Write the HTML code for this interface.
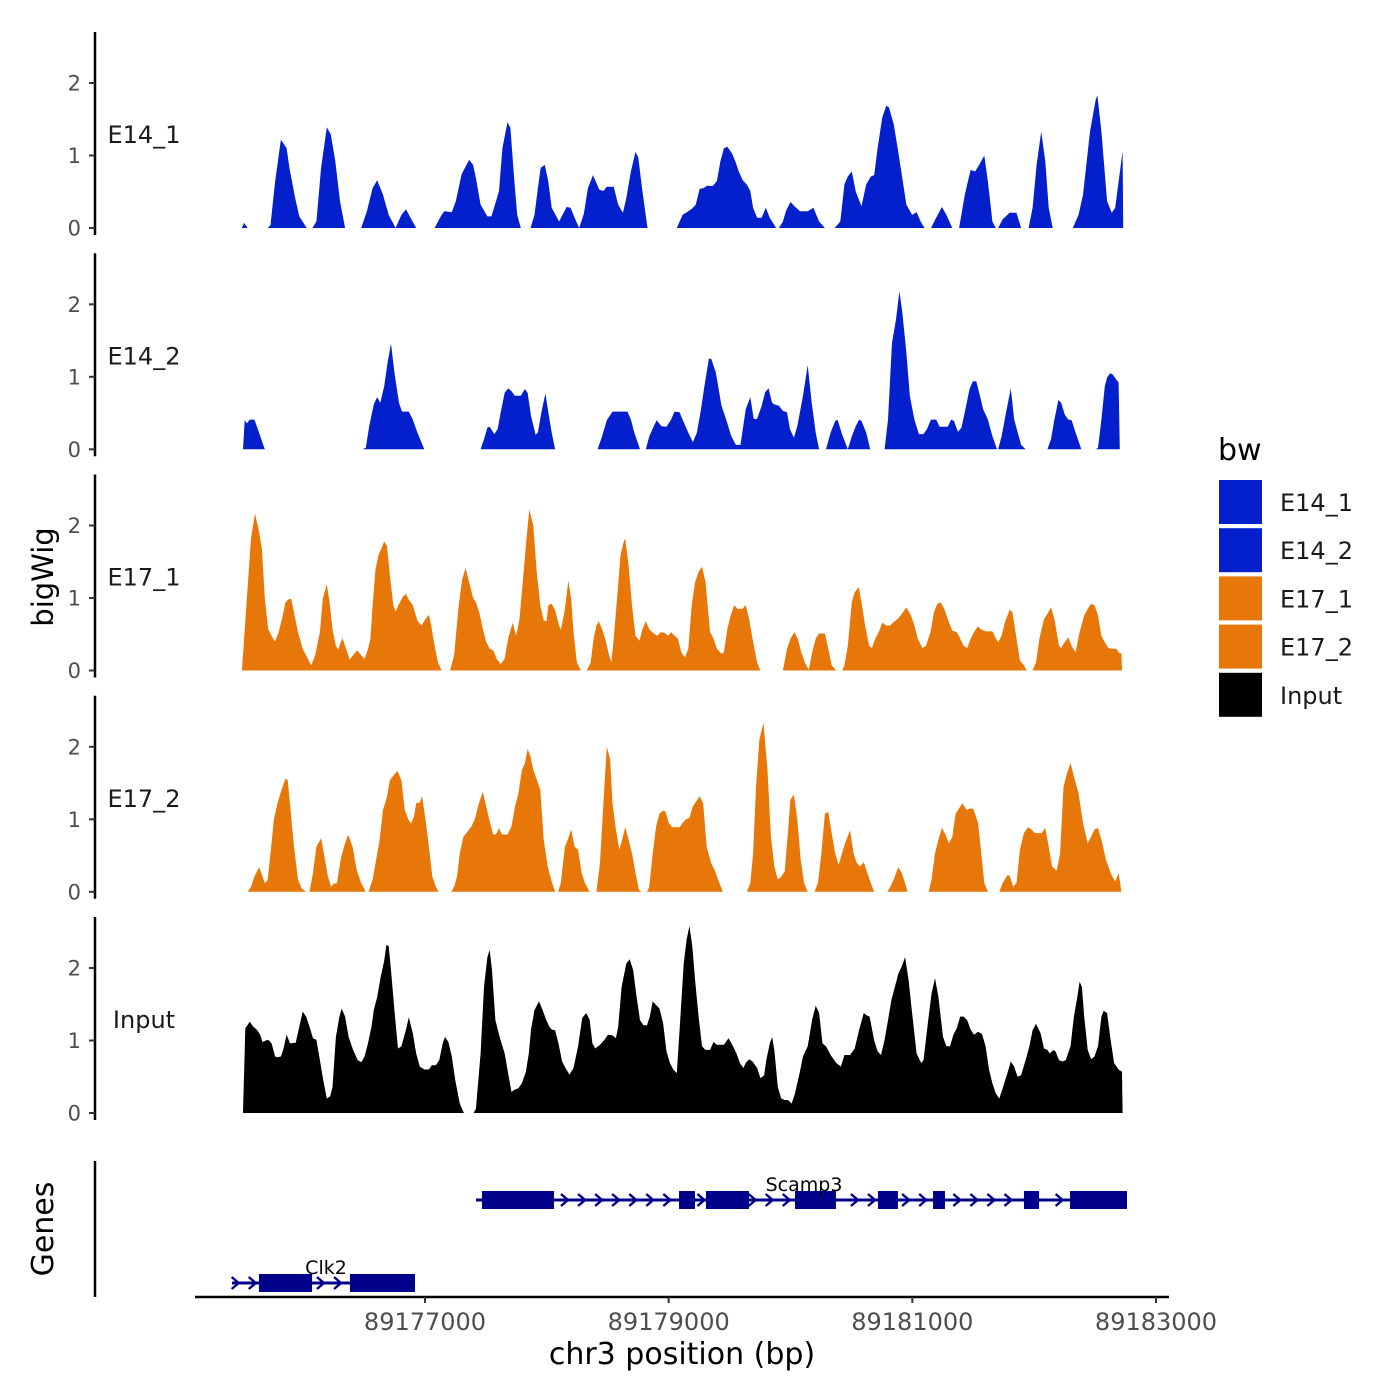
<!DOCTYPE html>
<html><head><meta charset="utf-8"><style>
html,body{margin:0;padding:0;background:#fff;}
svg{display:block;font-family:"DejaVu Sans","Liberation Sans",sans-serif;}
</style></head><body>
<svg id="chart" width="1400" height="1400" viewBox="0 0 1400 1400" xmlns="http://www.w3.org/2000/svg"></svg>
<script>
// ---- data ----
const chromBase = 89175000;
const trackNames = ["E14_1","E14_2","E17_1","E17_2","Input"];
const trackColors = ["#0320CC","#0320CC","#E8770A","#E8770A","#000000"];
const xTicks = [89177000,89179000,89181000,89183000];
const yTicks = [0,1,2];
// flat [offset-from-chromBase, value] pairs
const e14_1 = [497,0,515,.07,544,0,708,0,732,.04,770,.64,817,1.22,864,1.1,887,.83,935,.41,968,.16,1029,0,
1076,0,1109,.09,1147,.83,1194,1.39,1227,1.29,1264,.92,1302,.37,1344,0,
1476,0,1523,.23,1570,.55,1608,.66,1655,.46,1702,.18,1759,0,1806,.18,1844,.26,1891,.11,1928,0,
2079,0,2136,.18,2159,.23,2220,.22,2253,.37,2300,.74,2362,.94,2395,.87,2418,.69,2456,.32,2512,.16,2545,.16,2583,.37,2607,.51,2635,1.1,2677,1.46,2701,1.38,2734,.64,2757,.18,2786,0,
2866,0,2899,.18,2927,.55,2950,.83,2983,.87,3012,.64,3040,.28,3101,.09,3162,.29,3195,.28,3228,.14,3266,0,3304,.2,3337,.55,3379,.73,3431,.53,3464,.51,3492,.57,3549,.57,3586,.32,3624,.21,3652,.41,3690,.78,3728,1.05,3751,.97,3784,.51,3826,0,
4067,0,4114,.18,4161,.23,4194,.27,4222,.32,4255,.54,4288,.55,4312,.58,4363,.58,4396,.65,4425,.92,4453,1.1,4481,1.12,4519,1.03,4547,.92,4575,.78,4608,.66,4641,.6,4670,.51,4693,.28,4726,.14,4764,.14,4797,.28,4830,.14,4882,0,
4905,0,4938,.09,4962,.23,5000,.36,5032,.3,5079,.23,5141,.23,5188,.28,5235,.09,5282,0,
5362,0,5409,.09,5442,.6,5470,.71,5503,.78,5536,.5,5583,.3,5621,.6,5659,.71,5687,.73,5715,1.1,5753,1.52,5786,1.69,5809,1.66,5847,1.43,5880,1.1,5913,.74,5951,.32,5998,.18,6035,.22,6068,.09,6101,0,
6153,0,6196,.14,6243,.29,6280,.18,6328,0,6384,0,6431,.46,6478,.8,6516,.78,6549,.87,6591,1.0,6620,.64,6657,.09,6685,0,
6704,0,6742,.12,6799,.21,6855,.21,6893,0,6954,0,6987,.28,7020,.87,7058,1.33,7091,.92,7119,.28,7152,0,
7317,0,7364,.18,7401,.46,7458,1.33,7505,1.77,7519,1.83,7552,1.33,7599,.37,7637,.21,7665,.28,7693,.64,7726,1.06,7731,0];
const e14_2 = [506,0,520,.40,539,.36,562,.41,600,.41,628,.28,666,.09,685,0,
1486,0,1514,.02,1542,.32,1580,.62,1608,.72,1632,.64,1665,.87,1693,1.2,1721,1.46,1749,1.06,1787,.64,1811,.52,1867,.52,1900,.41,1938,.23,1994,0,
2456,0,2484,.14,2512,.3,2531,.31,2569,.21,2597,.28,2621,.51,2654,.78,2682,.84,2710,.8,2738,.74,2786,.74,2819,.83,2842,.78,2870,.46,2908,.2,2927,.23,2955,.51,2988,.77,3012,.51,3040,.23,3068,0,
3417,0,3454,.18,3492,.4,3539,.52,3662,.52,3690,.41,3718,.23,3765,0,
3812,0,3841,.18,3878,.32,3902,.4,3940,.32,3982,.31,4020,.41,4048,.52,4090,.51,4114,.41,4161,.23,4199,.1,4232,.23,4265,.55,4293,.87,4330,1.25,4349,1.25,4387,1.06,4434,.6,4472,.41,4514,.18,4552,.06,4590,.06,4604,.23,4632,.55,4670,.72,4698,.42,4726,.42,4764,.6,4792,.79,4820,.84,4849,.64,4867,.62,4905,.6,4938,.53,4971,.51,4995,.28,5028,.16,5056,.32,5103,.74,5141,1.16,5174,.64,5207,.23,5235,0,
5291,0,5329,.23,5367,.39,5386,.41,5423,.21,5470,0,5503,.18,5536,.32,5564,.41,5583,.39,5621,.23,5654,0,
5772,0,5800,.41,5833,1.47,5866,1.79,5894,2.18,5918,1.89,5951,1.33,5979,.74,6017,.41,6054,.21,6092,.21,6120,.28,6153,.41,6196,.41,6224,.31,6290,.31,6318,.41,6342,.39,6375,.24,6403,.3,6431,.51,6469,.83,6497,.94,6525,.94,6549,.78,6582,.55,6620,.41,6657,.18,6695,0,
6704,0,6733,.18,6770,.51,6808,.84,6836,.41,6893,.06,6930,0,
7109,0,7138,.14,7166,.41,7199,.68,7222,.64,7251,.48,7279,.41,7307,.4,7340,.23,7387,0,
7505,0,7524,.02,7552,.41,7580,.87,7599,.99,7623,1.05,7646,1.03,7670,.97,7693,.92,7703,0];
const e17_1 = [497,0,534,.9,572,1.82,605,2.17,638,1.91,661,1.68,685,1.0,713,.57,746,.46,770,.4,798,.53,826,.71,854,.94,878,.98,902,.99,930,.76,958,.53,996,.30,1033,.18,1066,.07,1099,.21,1137,.53,1161,.99,1194,1.19,1217,.94,1241,.57,1269,.34,1288,.29,1321,.45,1344,.34,1382,.15,1410,.21,1443,.28,1476,.21,1504,.16,1533,.30,1552,.44,1570,.90,1594,1.40,1618,1.59,1641,1.68,1665,1.78,1688,1.72,1712,1.31,1740,.90,1759,.81,1782,.90,1815,1.01,1844,1.06,1862,.99,1900,.90,1938,.69,1971,.62,2004,.71,2032,.77,2051,.62,2079,.34,2107,.11,2136,0,
2206,0,2239,.21,2277,.9,2305,1.26,2333,1.41,2362,1.22,2395,1.0,2418,.94,2446,.8,2475,.57,2503,.39,2531,.3,2560,.28,2588,.16,2621,.09,2654,.16,2682,.44,2720,.66,2748,.48,2776,.71,2804,1.26,2833,1.82,2856,2.22,2889,2.0,2917,1.36,2946,.9,2974,.69,2998,.68,3012,.9,3040,.92,3068,.83,3101,.62,3115,.56,3144,.8,3177,1.24,3200,.99,3219,.53,3247,.11,3280,0,
3327,0,3360,.11,3384,.44,3407,.62,3426,.68,3454,.57,3478,.44,3511,.21,3530,.11,3549,.44,3572,.9,3605,1.59,3629,1.77,3643,1.82,3671,1.45,3699,.9,3728,.48,3761,.41,3784,.57,3812,.68,3841,.57,3878,.51,3907,.48,3935,.53,3963,.52,3996,.48,4020,.53,4048,.48,4076,.44,4104,.25,4133,.18,4161,.30,4189,.9,4217,1.22,4246,1.36,4274,1.43,4302,1.22,4340,.53,4368,.44,4396,.30,4434,.23,4453,.25,4481,.57,4509,.76,4538,.90,4566,.85,4604,.85,4632,.9,4660,.71,4688,.44,4726,.11,4754,0,
4938,0,4971,.30,5000,.44,5032,.53,5061,.43,5089,.25,5117,.11,5150,.01,5178,.25,5207,.44,5235,.51,5282,.51,5310,.30,5338,.07,5376,0,
5423,0,5442,.07,5470,.34,5503,.94,5527,1.08,5560,1.15,5583,.94,5612,.62,5645,.34,5668,.31,5696,.44,5725,.53,5753,.66,5786,.62,5819,.62,5847,.67,5880,.71,5913,.78,5951,.87,5988,.76,6017,.62,6045,.44,6083,.31,6111,.34,6149,.53,6177,.8,6205,.92,6233,.94,6262,.85,6290,.71,6328,.55,6365,.53,6393,.44,6422,.34,6450,.31,6478,.44,6506,.53,6539,.61,6563,.57,6601,.54,6657,.54,6681,.46,6704,.39,6733,.48,6761,.67,6799,.84,6822,.80,6855,.44,6883,.14,6916,.07,6940,0,
6987,0,7015,.11,7043,.44,7081,.71,7109,.78,7138,.87,7166,.71,7204,.34,7222,.31,7251,.39,7279,.46,7307,.34,7340,.25,7373,.53,7411,.76,7439,.85,7467,.92,7495,.90,7524,.76,7552,.48,7580,.39,7609,.31,7637,.30,7675,.30,7693,.25,7717,.23,7721,0];
const e17_2 = [544,0,572,.07,600,.21,638,.34,666,.21,685,.12,708,.16,732,.53,760,1.0,789,1.22,817,1.38,854,1.56,873,1.54,897,1.13,925,.62,958,.17,986,.05,1024,0,
1052,0,1081,.26,1109,.62,1147,.74,1170,.53,1203,.21,1231,.07,1250,.11,1278,.12,1307,.44,1335,.62,1368,.79,1406,.62,1439,.30,1476,.12,1514,0,
1537,0,1570,.17,1599,.44,1627,.71,1655,1.13,1688,1.31,1712,1.54,1740,1.6,1773,1.67,1806,1.54,1834,1.13,1862,1.0,1886,.94,1910,1.04,1928,1.22,1957,1.23,1975,1.32,2004,1.0,2032,.62,2060,.21,2089,.07,2112,0,
2216,0,2239,.07,2263,.21,2286,.53,2315,.76,2348,.83,2381,.9,2409,1.0,2442,1.22,2475,1.38,2503,1.17,2527,1.0,2560,.79,2583,.79,2607,.88,2630,.79,2677,.79,2710,.9,2738,1.17,2767,1.36,2795,1.68,2819,1.77,2842,1.97,2866,1.87,2889,1.68,2917,1.55,2946,1.41,2974,.72,3007,.35,3040,.14,3068,0,
3092,0,3115,.12,3148,.62,3172,.72,3200,.86,3228,.62,3257,.58,3285,.26,3313,.12,3351,0,
3407,0,3436,.4,3464,1.22,3492,2.0,3520,1.82,3539,1.22,3567,.86,3596,.58,3624,.76,3643,.89,3671,.72,3699,.53,3728,.26,3756,.03,3775,0,
3822,0,3841,.07,3869,.53,3897,.9,3925,1.08,3954,1.12,3973,1.11,4001,.95,4029,.89,4090,.89,4114,.95,4142,1.0,4170,1.02,4199,1.18,4227,1.25,4255,1.32,4283,1.22,4312,.62,4349,.39,4378,.30,4406,.17,4444,0,
4641,0,4670,.12,4693,.53,4717,1.45,4745,2.1,4778,2.33,4811,1.68,4839,.77,4867,.35,4896,.17,4924,.21,4952,.28,4980,.85,4999,1.27,5028,1.34,5056,1.0,5084,.44,5112,.12,5141,0,
5197,0,5225,.12,5254,.53,5282,1.08,5310,1.1,5338,.81,5367,.53,5395,.37,5423,.53,5447,.67,5489,.85,5517,.53,5546,.39,5574,.35,5602,.41,5630,.26,5659,.12,5687,0,
5795,0,5819,.07,5847,.17,5885,.34,5913,.26,5941,.12,5960,0,
6134,0,6158,.17,6186,.53,6214,.72,6243,.88,6271,.79,6299,.67,6328,.76,6356,1.08,6384,1.15,6412,1.22,6445,1.13,6478,1.15,6502,1.14,6539,.95,6563,.58,6591,.12,6620,0,
6714,0,6742,.12,6780,.23,6799,.22,6827,.07,6855,.12,6883,.58,6916,.81,6949,.89,6977,.86,7006,.81,7062,.81,7091,.88,7119,.62,7147,.35,7185,.29,7213,.53,7241,1.45,7270,1.64,7298,1.78,7326,1.59,7364,1.36,7401,.95,7439,.67,7467,.76,7495,.86,7524,.88,7552,.72,7590,.44,7627,.26,7665,.14,7693,.26,7717,0];
const input = [506,0,525,1.17,562,1.26,591,1.19,619,1.15,647,1.08,666,.98,694,1.0,713,1.01,741,.96,770,.78,789,.77,817,.78,836,.87,864,1.08,892,.96,939,.97,968,1.19,996,1.4,1024,1.33,1052,1.19,1081,1.03,1109,1.01,1137,.73,1165,.45,1194,.2,1222,.23,1241,.36,1269,1.05,1297,1.33,1316,1.44,1344,1.33,1373,1.05,1410,.87,1448,.73,1476,.7,1504,.78,1533,.97,1561,1.19,1580,1.42,1608,1.6,1636,1.88,1665,2.1,1683,2.32,1702,2.3,1721,1.97,1749,1.42,1778,.89,1806,.92,1844,1.15,1867,1.32,1900,1.1,1928,.82,1957,.64,1994,.6,2032,.6,2056,.66,2089,.66,2117,.73,2145,.96,2164,1.05,2192,.98,2220,.78,2249,.45,2286,.13,2319,0,
2399,0,2418,.06,2456,.82,2484,1.74,2512,2.15,2531,2.25,2550,1.97,2578,1.28,2616,1.03,2654,.82,2682,.55,2710,.29,2734,.32,2767,.34,2795,.41,2828,.57,2852,.82,2870,1.15,2899,1.42,2936,1.54,2965,1.42,2993,1.29,3021,1.19,3040,1.15,3068,1.14,3096,.96,3125,.71,3153,.62,3186,.53,3219,.62,3257,.92,3290,1.31,3323,1.38,3351,1.29,3374,.96,3398,.89,3436,.94,3473,1.01,3502,1.08,3539,1.07,3567,1.03,3586,1.19,3614,1.74,3652,2.06,3680,2.12,3709,1.97,3737,1.6,3765,1.28,3794,1.21,3822,1.21,3845,1.33,3869,1.54,3897,1.49,3925,1.44,3954,1.24,3982,.85,4010,.69,4038,.6,4067,.55,4095,1.28,4123,2.06,4147,2.39,4170,2.58,4194,2.3,4217,1.83,4246,1.33,4274,.92,4302,.87,4340,.87,4368,.98,4396,.94,4453,.94,4491,1.03,4528,.92,4557,.82,4585,.69,4613,.62,4632,.69,4660,.74,4688,.71,4726,.62,4754,.48,4783,.52,4801,.73,4830,.96,4849,1.05,4867,.87,4896,.36,4924,.2,4952,.18,4980,.18,5009,.13,5037,.27,5075,.55,5103,.78,5141,.92,5178,1.29,5207,1.48,5235,1.38,5263,.96,5291,.92,5329,.8,5376,.69,5414,.64,5442,.8,5489,.8,5527,.89,5564,1.15,5602,1.38,5621,1.35,5649,1.33,5687,1.0,5715,.85,5743,.8,5772,1.01,5800,1.28,5828,1.56,5857,1.74,5885,1.92,5913,2.02,5941,2.15,5969,1.83,5998,1.38,6035,.82,6073,.69,6092,.73,6130,1.28,6158,1.65,6186,1.86,6214,1.6,6252,1.05,6280,.92,6309,.92,6337,1.08,6365,1.17,6393,1.33,6422,1.33,6450,1.28,6478,1.15,6506,1.08,6539,1.12,6572,1.09,6601,.92,6629,.6,6657,.41,6685,.27,6714,.2,6742,.34,6780,.55,6808,.71,6836,.64,6864,.5,6893,.52,6930,.73,6959,.91,6987,1.14,7015,1.23,7053,1.1,7081,.89,7109,.87,7128,.82,7157,.87,7175,.85,7204,.73,7232,.71,7260,.73,7298,.92,7326,1.33,7354,1.6,7373,1.81,7392,1.74,7411,1.33,7439,.87,7467,.74,7495,.78,7524,.92,7552,1.33,7571,1.41,7599,1.38,7627,1.01,7656,.69,7693,.6,7721,.57,7726,0];
const trackData = [e14_1,e14_2,e17_1,e17_2,input];
// genes
const geneNames = ["Scamp3","Clk2"];
const geneStarts = [89177419,89175416];
const geneEnds = [89182762,89176918];
const scamp3Exons = [89177468,89178059, 89179085,89179216, 89179306,89179659, 89180037,89180373, 89180718,89180882, 89181170,89181268, 89181916,89182040, 89182294,89182762];
const clk2Exons = [89175637,89176073, 89176384,89176918];
const geneExons = [scamp3Exons, clk2Exons];

// ---- scales ----
const NS = "http://www.w3.org/2000/svg";
const svg = document.getElementById('chart');
const xScale = bp => 425 + (bp - 89177000) * (731 / 6000);
const panelZero = [228, 449.3, 670.5, 891.8, 1113];
const yUnit = 72.5;
const yScale = (p, v) => panelZero[p] - v * yUnit;
function mk(tag, attrs, parent){ const e=document.createElementNS(NS,tag); for(const k in attrs) e.setAttribute(k,attrs[k]); (parent||svg).appendChild(e); return e; }

// panels
trackData.forEach((d, p) => {
  const g = mk('g', {});
  
  
  let pts = [];
  for (let i = 0; i < d.length; i += 2) pts.push(xScale(chromBase + d[i]).toFixed(1) + ',' + yScale(p, d[i+1]).toFixed(1));
  const first = xScale(chromBase + d[0]), last = xScale(chromBase + d[d.length-2]);
  const poly = mk('polygon', {points: first.toFixed(1)+','+panelZero[p]+' '+pts.join(' ')+' '+last.toFixed(1)+','+panelZero[p], fill: trackColors[p]}, g);
  
  
  const ax = mk('line', {x1:95, x2:95, y1:panelZero[p]-196, y2:panelZero[p]+7, stroke:'#000', 'stroke-width':2.5}, g);
  
  
  yTicks.forEach(t => {
    const y = yScale(p, t);
    const tk = mk('line', {x1:89, x2:95, y1:y, y2:y, stroke:'#333', 'stroke-width':2}, g);
    
    
    const tl = mk('text', {x:81, y:y+7.5, 'text-anchor':'end', 'font-size':21, fill:'#4d4d4d'}, g);
    tl.textContent = t;
    
    
  });
  const lab = mk('text', {x:144, y:panelZero[p]-85, 'text-anchor':'middle', 'font-size':24, fill:'#1a1a1a'}, g);
  lab.textContent = trackNames[p];
  
  
});

// y title
const yt = mk('text', {x:0, y:0, transform:'translate(53,577) rotate(-90)', 'text-anchor':'middle', 'font-size':29, fill:'#000'});
yt.textContent = 'bigWig';


const gt = mk('text', {x:0, y:0, transform:'translate(53,1229) rotate(-90)', 'text-anchor':'middle', 'font-size':30, fill:'#000'});
gt.textContent = 'Genes';



// genes panel
const gax = mk('line', {x1:95, x2:95, y1:1161, y2:1297, stroke:'#000', 'stroke-width':2.5});


const geneY = [1200, 1283];
const navy = '#00008B';
geneNames.forEach((name, gi) => {
  const g = mk('g', {});
  
  
  const y = geneY[gi];
  mk('line', {x1:xScale(geneStarts[gi]), x2:xScale(geneEnds[gi]), y1:y, y2:y, stroke:navy, 'stroke-width':3}, g);
  const ex = geneExons[gi];
  for (let bp = geneStarts[gi] + 30; bp < geneEnds[gi]; bp += 140) {
    let inExon = false;
    for (let k = 0; k < ex.length; k += 2) if (bp > ex[k] - 30 && bp < ex[k+1] + 30) inExon = true;
    if (inExon) continue;
    const cx = xScale(bp);
    const ch = mk('polyline', {points:(cx-4)+','+(y-6)+' '+(cx+3)+','+y+' '+(cx-4)+','+(y+6), fill:'none', stroke:navy, 'stroke-width':2.4}, g);
    
    
  }
  for (let k = 0; k < ex.length; k += 2) {
    const r = mk('rect', {x:xScale(ex[k]), y:y-9, width:xScale(ex[k+1])-xScale(ex[k]), height:18, fill:navy}, g);
    
    
  }
});
const s3 = mk('text', {x:804, y:1191, 'text-anchor':'middle', 'font-size':19, fill:'#000'});
s3.textContent = 'Scamp3';


const c2 = mk('text', {x:326, y:1274, 'text-anchor':'middle', 'font-size':19, fill:'#000'});
c2.textContent = 'Clk2';



// x axis
const xa = mk('line', {x1:195, x2:1169, y1:1297, y2:1297, stroke:'#000', 'stroke-width':2.5});


xTicks.forEach(t => {
  const x = xScale(t);
  const tk = mk('line', {x1:x, x2:x, y1:1297, y2:1303, stroke:'#333', 'stroke-width':2});
  
  
  const tl = mk('text', {x:x, y:1330, 'text-anchor':'middle', 'font-size':24, fill:'#4d4d4d'});
  tl.textContent = t;
  
  
});
const xt = mk('text', {x:682, y:1364, 'text-anchor':'middle', 'font-size':30, fill:'#000'});
xt.textContent = 'chr3 position (bp)';



// legend
const lg = mk('g', {});


const lt = mk('text', {x:1218, y:460, 'font-size':30, fill:'#000'}, lg);
lt.textContent = 'bw';


trackNames.forEach((n, i) => {
  const top = 479 + i * 48.2;
  const r = mk('rect', {x:1218, y:top, width:45, height:46, fill:trackColors[i], stroke:'#fff', 'stroke-width':2}, lg);
  
  
  const t = mk('text', {x:1280, y:top+32, 'font-size':24, fill:'#1a1a1a'}, lg);
  t.textContent = n;
  
  
});
</script>
</body></html>
